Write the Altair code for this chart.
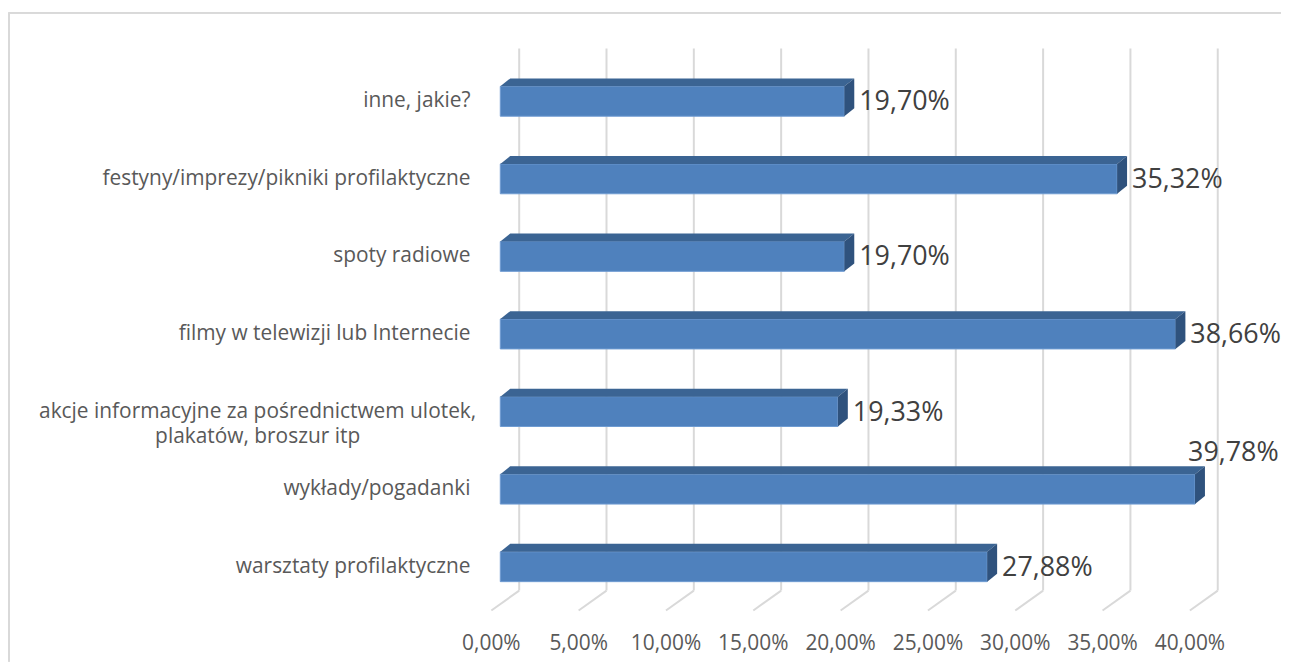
import altair as alt
import pandas as pd

# ---- data (top to bottom as drawn) ----
categories = [
    "inne, jakie?",
    "festyny/imprezy/pikniki profilaktyczne",
    "spoty radiowe",
    "filmy w telewizji lub Internecie",
    "akcje informacyjne za pośrednictwem ulotek,\nplakatów, broszur itp",
    "wykłady/pogadanki",
    "warsztaty profilaktyczne",
]
values = [19.70, 35.32, 19.70, 38.66, 19.33, 39.78, 27.88]
ticks = [0, 5, 10, 15, 20, 25, 30, 35, 40]
tick_labels = [f"{t:.2f}%".replace(".", ",") for t in ticks]
value_labels = [f"{v:.2f}%".replace(".", ",") for v in values]

# ---- layout constants (pixels) ----
W, H = 1280, 655
PX_PER_PCT = 17.56
ZERO_X = 495
ROW_PX = 78
BOTTOM_ROW_Y = 560
DEPTH_X, DEPTH_Y = 10, 8
HALF_T = 15

XLO = -ZERO_X / PX_PER_PCT
XHI = XLO + W / PX_PER_PCT
YLO = (BOTTOM_ROW_Y - H) / ROW_PX
YHI = YLO + H / ROW_PX
DX = DEPTH_X / PX_PER_PCT
DY = DEPTH_Y / ROW_PX
HT = HALF_T / ROW_PX

xs = alt.Scale(domain=[XLO, XHI], nice=False, zero=False)
ys = alt.Scale(domain=[YLO, YHI], nice=False, zero=False)

n = len(categories)
bars = pd.DataFrame({
    "cat": categories,
    "v": values,
    "lab": value_labels,
    "idx": [n - 1 - i for i in range(n)],
})
bars["zero"] = 0.0
bars["yt"] = bars["idx"] + HT
bars["yb"] = bars["idx"] - HT
bars["wrapped"] = [1 if "\n" in c else 0 for c in categories]

top_rows, right_rows = [], []
for _, r in bars.iterrows():
    v, yt, yb = r["v"], r["yt"], r["yb"]
    for x, lo, hi in [(0, yt, yt), (DX, yt, yt + DY), (v, yt, yt + DY), (v + DX, yt + DY, yt + DY)]:
        top_rows.append({"cat": r["cat"], "x": x, "lo": lo, "hi": hi})
    for x, lo, hi in [(v, yb, yt), (v + DX, yb + DY, yt + DY)]:
        right_rows.append({"cat": r["cat"], "x": x, "lo": lo, "hi": hi})
top_df = pd.DataFrame(top_rows)
right_df = pd.DataFrame(right_rows)

ticks_df = pd.DataFrame({"t": ticks, "lab": tick_labels})

GRID = "#d9d9d9"
FONT = "Open Sans"

grid = alt.Chart(ticks_df).mark_rule(color=GRID, strokeWidth=2, xOffset=19).encode(
    x=alt.X("t:Q", scale=xs, axis=None),
    y=alt.value(39), y2=alt.value(584),
)
floor = alt.Chart(ticks_df).mark_rule(color=GRID, strokeWidth=2, xOffset=19, x2Offset=-9).encode(
    x=alt.X("t:Q", scale=xs, axis=None), x2="t:Q",
    y=alt.value(584), y2=alt.value(604),
)
tick_text = alt.Chart(ticks_df).mark_text(
    font=FONT, fontSize=21, color="#595959", align="center", baseline="middle", dx=-9
).encode(
    x=alt.X("t:Q", scale=xs, axis=None),
    y=alt.value(638),
    text="lab:N",
)

front = alt.Chart(bars).mark_rect(color="#4f81bd", stroke="#6f9bd2", strokeWidth=1).encode(
    x=alt.X("zero:Q", scale=xs, axis=None), x2="v:Q",
    y=alt.Y("yb:Q", scale=ys, axis=None), y2="yt:Q",
)
top = alt.Chart(top_df).mark_area(color="#3b6493", interpolate="linear").encode(
    x=alt.X("x:Q", scale=xs, axis=None),
    y=alt.Y("lo:Q", scale=ys, axis=None), y2="hi:Q",
    detail="cat:N",
)
right = alt.Chart(right_df).mark_area(color="#2f527d", interpolate="linear").encode(
    x=alt.X("x:Q", scale=xs, axis=None),
    y=alt.Y("lo:Q", scale=ys, axis=None), y2="hi:Q",
    detail="cat:N",
)

cat_single = alt.Chart(bars).transform_filter("datum.wrapped == 0").mark_text(
    font=FONT, fontSize=21, color="#595959", align="right", baseline="middle", dx=-30
).encode(
    x=alt.X("zero:Q", scale=xs, axis=None),
    y=alt.Y("idx:Q", scale=ys, axis=None),
    text="cat:N",
)
cat_wrapped = alt.Chart(bars).transform_filter("datum.wrapped == 1").mark_text(
    font=FONT, fontSize=21, color="#595959", align="center", baseline="middle",
    dx=-244, lineBreak="\n", lineHeight=26
).encode(
    x=alt.X("zero:Q", scale=xs, axis=None),
    y=alt.Y("idx:Q", scale=ys, axis=None),
    text="cat:N",
)

val_in = alt.Chart(bars).transform_filter("datum.v <= 39").mark_text(
    font=FONT, fontSize=27, color="#404040", align="left", baseline="middle", dx=15, dy=1
).encode(
    x=alt.X("v:Q", scale=xs, axis=None),
    y=alt.Y("idx:Q", scale=ys, axis=None),
    text="lab:N",
)
val_over = alt.Chart(bars).transform_filter("datum.v > 39").mark_text(
    font=FONT, fontSize=27, color="#404040", align="left", baseline="middle", dx=-7, dy=-36
).encode(
    x=alt.X("v:Q", scale=xs, axis=None),
    y=alt.Y("idx:Q", scale=ys, axis=None),
    text="lab:N",
)

border_left = alt.Chart(ticks_df).mark_rule(color=GRID, strokeWidth=2).encode(
    x=alt.value(1), y=alt.value(3), y2=alt.value(H)
)
border_top = alt.Chart(ticks_df).mark_rule(color=GRID, strokeWidth=1.5).encode(
    x=alt.value(1), x2=alt.value(W), y=alt.value(3)
)

chart = alt.layer(
    border_left, border_top, grid, floor, tick_text,
    front, top, right, cat_single, cat_wrapped, val_in, val_over,
).properties(
    width=W, height=H, padding=0, autosize=alt.AutoSizeParams(type="none")
).configure_view(stroke=None)

chart.save("out.html", embed_options={"renderer": "svg", "actions": False})
